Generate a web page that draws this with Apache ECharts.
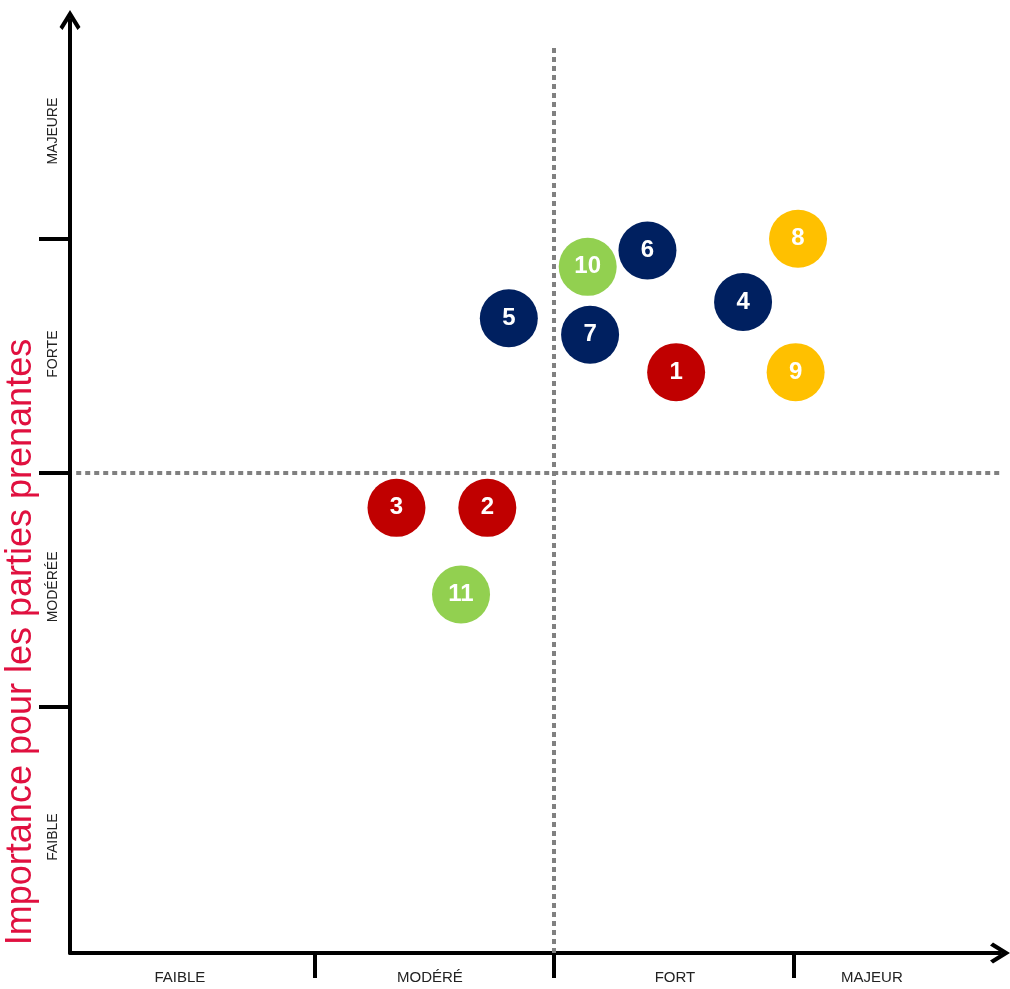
<!DOCTYPE html>
<html>
<head>
<meta charset="utf-8">
<script src="https://cdn.jsdelivr.net/npm/echarts@6/dist/echarts.min.js"></script>
<style>
html,body{margin:0;padding:0;background:#fff;}
#chart{width:1010px;height:989px;}
</style>
</head>
<body>
<div id="chart"></div>
<script>
// ---- data ----
const pointIds   = ['1','2','3','4','5','6','7','8','9','10','11'];
const impactX    = [2.51, 1.72, 1.34, 2.79, 1.81, 2.39, 2.15, 3.02, 3.01, 2.14, 1.61];
const importanceY= [2.43, 1.85, 1.85, 2.73, 2.66, 2.95, 2.59, 3.00, 2.43, 2.88, 1.48];
const pointGroup = ['rouge','rouge','rouge','bleu','bleu','bleu','bleu','jaune','jaune','vert','vert'];
const groupNames = ['rouge','bleu','jaune','vert'];

const xTickValues = [1, 2, 3];
const yTickValues = [1, 2, 3];
const xLabelValues = [0.434, 1.480, 2.505, 3.329];
const xLabelTexts  = ['FAIBLE', 'MODÉRÉ', 'FORT', 'MAJEUR'];
const yLabelValues = [0.443, 1.512, 2.507, 3.460];
const yLabelTexts  = ['FAIBLE', 'MODÉRÉE', 'FORTE', 'MAJEURE'];
const quadrantX = 2;
const quadrantY = 2;
const yTitle = 'Importance pour les parties prenantes';

// ---- styles ----
const groupColors = {rouge:'#C00000', bleu:'#002060', jaune:'#FFC000', vert:'#92D050'};
const arrowPath = 'path://M10.5 0 L21 17 L18 20 L10.5 8 L3 20 L0 17 Z';
const X_MIN = -0.026, X_MAX = 3.865, Y_MIN = -0.0526, Y_MAX = 3.935;

const chart = echarts.init(document.getElementById('chart'));

const scatterSeries = groupNames.map(g => ({
  type: 'scatter',
  name: g,
  z: 3,
  symbolSize: 58,
  itemStyle: {color: groupColors[g], opacity: 1},
  label: {
    show: true, position: 'inside', color: '#fff',
    fontFamily: 'Liberation Sans, Arial, sans-serif', fontWeight: 'bold', fontSize: 24,
    formatter: p => p.name
  },
  data: pointIds.map((id, i) => ({name: id, value: [impactX[i], importanceY[i]], g: pointGroup[i]}))
               .filter(d => d.g === g)
               .map(d => ({name: d.name, value: d.value}))
}));

const option = {
  animation: false,
  backgroundColor: '#fff',
  grid: {left: 70, right: 10, top: 20, bottom: 36, containLabel: false},
  xAxis: {
    type: 'value', min: X_MIN, max: X_MAX,
    splitLine: {show: false},
    axisLine: {show: true, onZero: false, symbol: ['none', arrowPath], symbolSize: [21, 20],
               lineStyle: {color: '#000', width: 4}},
    axisTick: {show: true, customValues: xTickValues, length: 25, lineStyle: {color: '#000', width: 4}},
    axisLabel: {
      show: true, customValues: xLabelValues, margin: 17,
      color: '#222', fontSize: 15, fontFamily: 'Liberation Sans, Arial, sans-serif',
      formatter: v => { const i = xLabelValues.indexOf(v); return i >= 0 ? xLabelTexts[i] : ''; }
    }
  },
  yAxis: {
    type: 'value', min: Y_MIN, max: Y_MAX,
    splitLine: {show: false},
    axisLine: {show: true, onZero: false, symbol: ['none', arrowPath], symbolSize: [21, 20],
               lineStyle: {color: '#000', width: 4}},
    axisTick: {show: true, customValues: yTickValues, length: 31, lineStyle: {color: '#000', width: 4}},
    axisLabel: {
      show: true, customValues: yLabelValues, rotate: 90, margin: 10,
      color: '#222', fontSize: 14, fontFamily: 'Liberation Sans, Arial, sans-serif',
      formatter: v => { const i = yLabelValues.indexOf(v); return i >= 0 ? yLabelTexts[i] : ''; }
    }
  },
  graphic: [{
    type: 'text', x: 21, y: 642, rotation: Math.PI / 2, z: 10,
    style: {
      text: yTitle, fill: '#E0103F', fontSize: 36,
      fontFamily: 'Liberation Sans, Arial, sans-serif',
      textAlign: 'center', textVerticalAlign: 'middle'
    }
  }],
  series: [{
    type: 'line', data: [], z: 1, silent: true,
    markLine: {
      silent: true, symbol: 'none', z: 1, animation: false,
      label: {show: false},
      lineStyle: {type: [5, 4], color: '#808080', width: 4},
      data: [
        [{coord: [quadrantX, Y_MIN]}, {coord: [quadrantX, 3.82]}],
        [{coord: [0, quadrantY]}, {coord: [X_MAX, quadrantY]}]
      ]
    }
  }].concat(scatterSeries)
};
chart.setOption(option);
</script>
</body>
</html>
